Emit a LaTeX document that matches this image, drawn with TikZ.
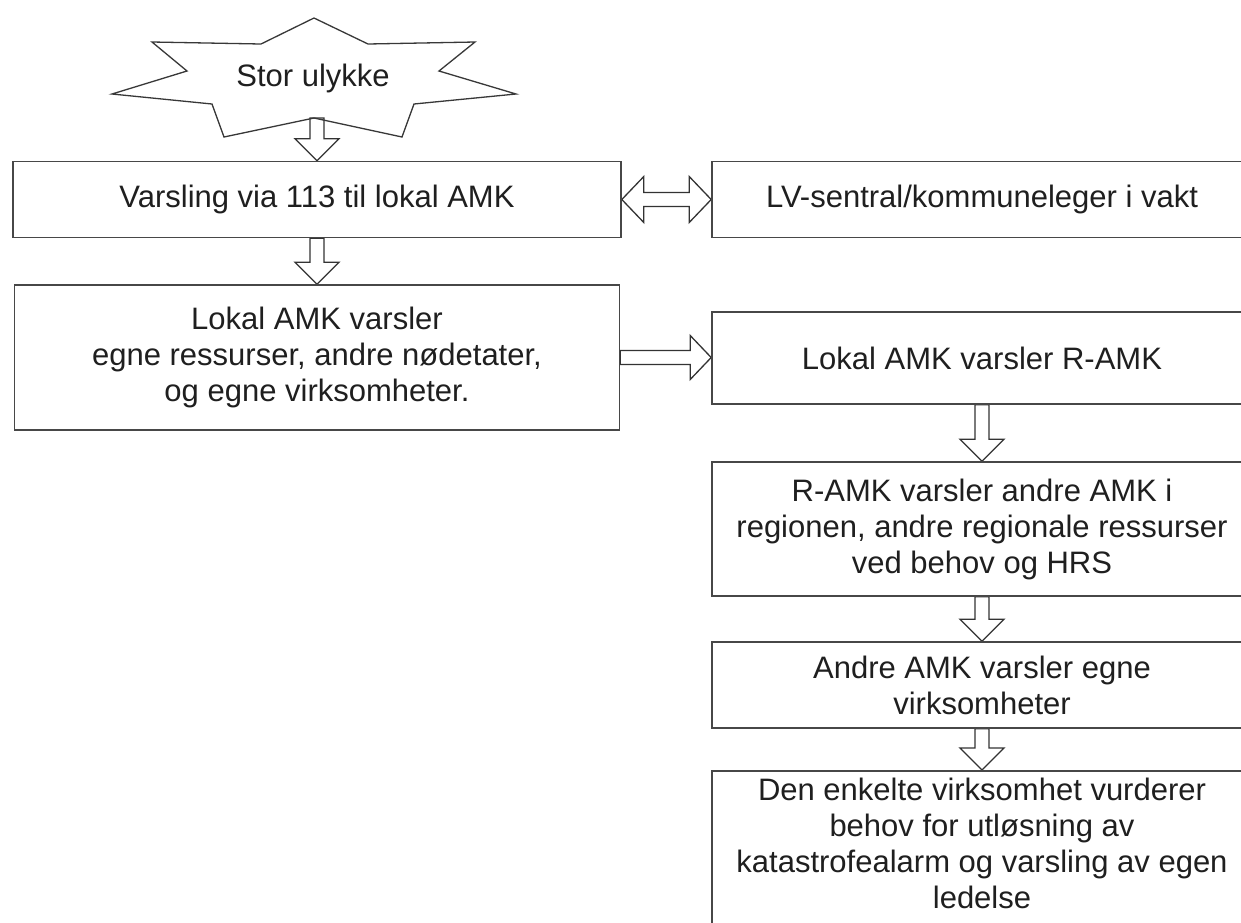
\documentclass[tikz,border=0pt]{standalone}
\usepackage{fontspec}
\setmainfont{Liberation Sans}
\usetikzlibrary{calc}
\pgfdeclarelayer{bg}
\pgfsetlayers{bg,main}
\tikzset{
  box/.style={draw=black!72, line width=1.6pt, align=center, inner sep=0pt,
    text=black!88, font=\fontsize{31}{36}\selectfont},
  txt/.style={align=center, inner sep=0pt, text=black!88, font=\fontsize{31}{36}\selectfont},
  blk/.style={draw=black!80, line width=1.3pt, fill=white, line join=miter},
  starline/.style={draw=black!78, line width=1.3pt, line join=miter},
}
% block arrow pointing down from #1 to the level of #2
\newcommand\downblk[2]{%
  \coordinate (dbT) at (#1 |- #2);
  \draw[blk] ($(#1)+(-7,0)$) -- ($(dbT)+(-7,-22)$) -- ($(dbT)+(-22,-22)$) -- (dbT)
    -- ($(dbT)+(22,-22)$) -- ($(dbT)+(7,-22)$) -- ($(#1)+(7,0)$) -- cycle;}
% block arrow pointing right from #1 to the x of #2
\newcommand\rightblk[2]{%
  \coordinate (rbT) at (#2 |- #1);
  \draw[blk] ($(#1)+(0,-7)$) -- ($(rbT)+(-21,-7)$) -- ($(rbT)+(-21,-22)$) -- (rbT)
    -- ($(rbT)+(-21,22)$) -- ($(rbT)+(-21,7)$) -- ($(#1)+(0,7)$) -- cycle;}
% double block arrow between #1 (left) and #2 (right)
\newcommand\dblblk[2]{%
  \coordinate (ddT) at (#2 |- #1);
  \draw[blk] (#1) -- ($(#1)+(22,-23)$) -- ($(#1)+(22,-7)$) -- ($(ddT)+(-22,-7)$)
    -- ($(ddT)+(-22,-23)$) -- (ddT) -- ($(ddT)+(-22,23)$) -- ($(ddT)+(-22,7)$)
    -- ($(#1)+(22,7)$) -- ($(#1)+(22,23)$) -- cycle;}
\begin{document}
\begin{tikzpicture}[x=1pt,y=-1pt]
\useasboundingbox (0,0) rectangle (1241,922);
\clip (0,0) rectangle (1241,922);

% star
\draw[starline] (314,18) -- (368,44) -- (475,42) -- (439,71) -- (516,94) -- (414,104)
  -- (402,137) -- (314,118) -- (224,137) -- (212,104) -- (112,94) -- (187,71)
  -- (152,42) -- (261,44) -- cycle;
\node[txt] (star) at (313,78) {Stor ulykke};
\coordinate (starb) at (317,118);

% boxes
\node[box, minimum width=608, minimum height=76] (b1) at (317,199.5) {Varsling via 113 til lokal AMK};
\node[box, minimum width=540, minimum height=76] (b2) at (982,199.5) {LV-sentral/kommuneleger i vakt};
\node[box, minimum width=605, minimum height=145] (b3) at (317,357.5)
  {Lokal AMK varsler\\egne ressurser, andre nødetater,\\og egne virksomheter.};
\node[box, minimum width=540, minimum height=92] (b4) at (982,358) {Lokal AMK varsler R-AMK};
\node[box, minimum width=540, minimum height=134] (b5) at (982,529)
  {R-AMK varsler andre AMK i\\regionen, andre regionale ressurser\\ved behov og HRS};
\node[box, minimum width=540, minimum height=86] (b6) at (982,685)
  {Andre AMK varsler egne\\virksomheter};
\node[box, minimum width=540, minimum height=200, anchor=north] (b7) at (982,770) {};
\node[txt] (t7) at (982,843)
  {Den enkelte virksomhet vurderer\\behov for utløsning av\\katastrofealarm og varsling av egen\\ledelse};

% block arrows
\begin{pgfonlayer}{bg}
\fill[white] (0,0) rectangle (1241,922);
\downblk{starb}{b1.north}
\downblk{b1.south}{b3.north}
\dblblk{b1.east}{b2.west}
\rightblk{b3.east}{b4.west}
\downblk{b4.south}{b5.north}
\downblk{b5.south}{b6.north}
\downblk{b6.south}{b7.north}
\end{pgfonlayer}
\end{tikzpicture}
\end{document}
